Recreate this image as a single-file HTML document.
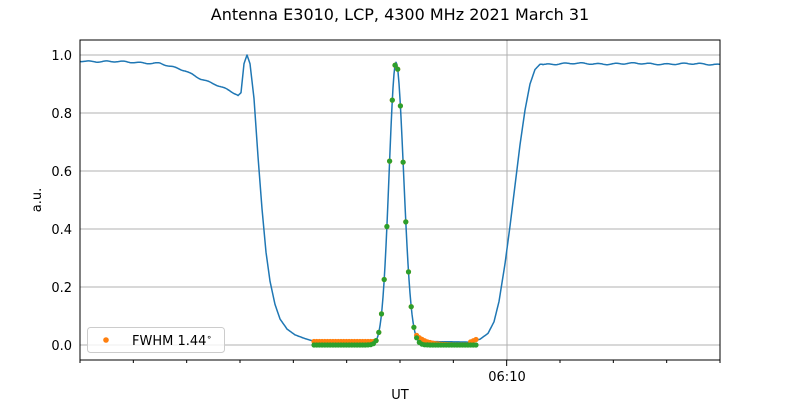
<!DOCTYPE html>
<html><head><meta charset="utf-8"><style>
body{margin:0;background:#fff}
svg{font-family:"DejaVu Sans","Liberation Sans",sans-serif}
</style></head><body>
<svg id="s" width="800" height="400" xmlns="http://www.w3.org/2000/svg">
<rect width="800" height="400" fill="#fff"/>
<text x="400" y="20" font-size="16" text-anchor="middle">Antenna E3010, LCP, 4300 MHz 2021 March 31</text>
<g stroke="#b0b0b0" stroke-width="1">
<line x1="80" x2="720" y1="345" y2="345"/><line x1="80" x2="720" y1="287" y2="287"/>
<line x1="80" x2="720" y1="229" y2="229"/><line x1="80" x2="720" y1="171" y2="171"/>
<line x1="80" x2="720" y1="113" y2="113"/><line x1="80" x2="720" y1="55" y2="55"/>
<line x1="507" x2="507" y1="40" y2="360"/>
</g>
<g id="data"></g>
<rect x="80" y="40" width="640" height="320" fill="none" stroke="#000" stroke-width="1"/>
<g font-size="13" text-anchor="end">
<text x="72" y="350">0.0</text><text x="72" y="292">0.2</text><text x="72" y="234">0.4</text>
<text x="72" y="176">0.6</text><text x="72" y="118">0.8</text><text x="72" y="60">1.0</text>
</g>
<g stroke="#000" id="ticks"></g>
<text x="507" y="381" font-size="13" text-anchor="middle">06:10</text>
<text x="400" y="399" font-size="13" text-anchor="middle">UT</text>
<text transform="translate(41,200) rotate(-90)" font-size="13" text-anchor="middle">a.u.</text>
<rect x="87.5" y="327.5" width="137" height="25" rx="3" fill="#fff" fill-opacity="0.8" stroke="#ccc"/>
<circle cx="106" cy="340" r="2.8" fill="#ff7f0e"/>
<text x="132" y="345" font-size="13">FWHM 1.44<tspan font-size="9" dy="-5">∘</tspan></text>
</svg>
<script>
const Y=v=>345-290*v;
const g=document.getElementById('data'),t=document.getElementById('ticks');
let tk='';
for(let i=0;i<=12;i++){const x=80+i*640/12;tk+=`<line x1="${x}" x2="${x}" y1="360" y2="${i==8?366:363}"/>`;}
t.innerHTML=tk;
const kp=[[80,.98],[100,.978],[130,.975],[160,.972],[170,.96],[185,.945],[200,.92],[215,.9],[230,.875],[238,.86],[241,.87],[244,.97],[247,1],[250,.97],[254,.85],[258,.65],[262,.47],[266,.32],[270,.22],[275,.14],[280,.09],[287,.055],[295,.035],[305,.022],[315,.012],[330,.01],[365,.01]];
const gauss=x=>{const s=x<396?6.9:7.6;return .975*Math.exp(-((x-396)**2)/(2*s*s));};
const kp2=[[430,.012],[470,.01],[480,.02],[488,.04],[494,.08],[499,.15],[505,.28],[510,.41],[515,.55],[520,.69],[525,.81],[530,.9],[535,.95],[540,.968],[560,.97],[600,.97],[650,.97],[720,.968]];
function interp(arr,x){for(let i=0;i<arr.length-1;i++){if(x>=arr[i][0]&&x<=arr[i+1][0]){const f=(x-arr[i][0])/(arr[i+1][0]-arr[i][0]);return arr[i][1]+f*(arr[i+1][1]-arr[i][1]);}}return arr[arr.length-1][1];}
function f(x){if(x<=365)return interp(kp,x);if(x>=430)return interp(kp2,x);const gv=gauss(x);return Math.max(gv,.01);}
let d='';
for(let x=80;x<=720;x+=1){let v=f(x);if(x<238||x>542)v+=0.002*Math.sin(x*0.37)+0.0015*Math.sin(x*0.11+1);d+=(x==80?'M':'L')+x+','+Y(v).toFixed(1);}
let h=`<path d="${d}" fill="none" stroke="#1f77b4" stroke-width="1.5" stroke-linejoin="round"/>`;
let o='',gr='';
for(let x=314;x<=478;x+=2.7){let gv=gauss(x);let ov,gvv=gv;
 if(x<376){ov=Math.max(gv,.012);}
 else if(x<416){ov=gv;}
 else{ov=Math.max(gv,.035*Math.exp(-(x-416)/10)); if(x>470)ov=Math.max(ov,.01+(x-470)*.0015);}
 o+=`<circle cx="${x}" cy="${Y(ov).toFixed(1)}" r="2.6"/>`;
 gr+=`<circle cx="${x}" cy="${Y(gvv).toFixed(1)}" r="2.6"/>`;}
h+=`<g fill="#ff7f0e">${o}</g><g fill="#2ca02c">${gr}</g>`;
g.innerHTML=h;
</script>
</body></html>
